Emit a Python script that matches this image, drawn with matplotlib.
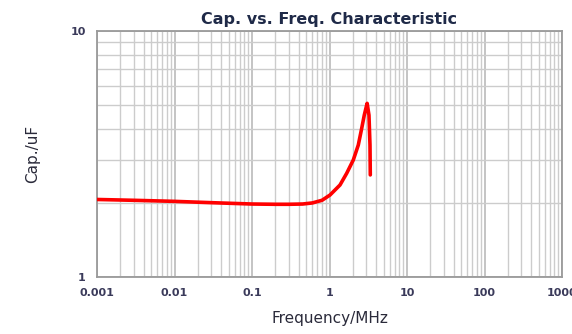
import matplotlib
matplotlib.use("Agg")
import matplotlib.pyplot as plt
from matplotlib.ticker import LogLocator, FixedLocator, NullFormatter, FixedFormatter

# Capacitance vs frequency
freq_mhz = [0.001, 0.003, 0.01, 0.03, 0.1, 0.2, 0.3, 0.45, 0.6, 0.8, 1.015,
            1.366, 1.667, 2.028, 2.353, 2.603, 2.81, 3.02, 3.06,
            3.23, 3.33, 3.36]
cap_uf = [2.066, 2.05, 2.03, 2.005, 1.98, 1.975, 1.975, 1.98, 2.0, 2.05, 2.154,
          2.366, 2.64, 2.99, 3.44, 4.02, 4.55, 5.0, 5.08,
          4.55, 3.44, 2.6]

x_ticks = [0.001, 0.01, 0.1, 1, 10, 100, 1000]
x_labels = ["0.001", "0.01", "0.1", "1", "10", "100", "1000"]
y_ticks = [1, 10]
y_labels = ["1", "10"]

fig = plt.figure(figsize=(5.72, 3.34), dpi=100)
ax = fig.add_axes([97 / 572, 57 / 334, 465 / 572, 246 / 334])

ax.plot(freq_mhz, cap_uf, color="#ff0000", lw=2.6, solid_capstyle="round",
        solid_joinstyle="round", zorder=3)

ax.set_xscale("log")
ax.set_yscale("log")
ax.set_xlim(0.001, 1000)
ax.set_ylim(1, 10)

ax.xaxis.set_major_locator(FixedLocator(x_ticks))
ax.xaxis.set_major_formatter(FixedFormatter(x_labels))
ax.xaxis.set_minor_locator(LogLocator(base=10, subs=range(2, 10), numticks=20))
ax.xaxis.set_minor_formatter(NullFormatter())
ax.yaxis.set_major_locator(FixedLocator(y_ticks))
ax.yaxis.set_major_formatter(FixedFormatter(y_labels))
ax.yaxis.set_minor_locator(LogLocator(base=10, subs=range(2, 10), numticks=20))
ax.yaxis.set_minor_formatter(NullFormatter())

ax.grid(True, which="major", color="#c4c4c4", lw=1.4)
ax.grid(True, which="minor", color="#cccccc", lw=1.0)
ax.set_axisbelow(True)

ax.tick_params(which="both", length=0, pad=8)
for lab in ax.get_xticklabels() + ax.get_yticklabels():
    lab.set_fontsize(8)
    lab.set_fontweight("bold")
    lab.set_color("#3a3a5a")

for sp in ax.spines.values():
    sp.set_color("#9a9a9a")
    sp.set_linewidth(1.3)

ax.set_title("Cap. vs. Freq. Characteristic", fontsize=11.5, fontweight="bold",
             color="#1f2a48", pad=5)
ax.set_xlabel("Frequency/MHz", fontsize=11, color="#2a2a3a", labelpad=9)
ax.set_ylabel("Cap./uF", fontsize=11, color="#2a2a3a", labelpad=22)

fig.savefig("out.png", dpi=100)
